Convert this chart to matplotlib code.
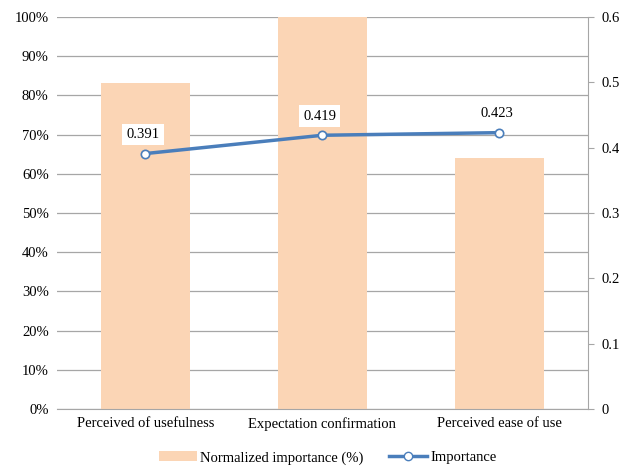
import matplotlib
matplotlib.use("Agg")
import matplotlib.pyplot as plt
from matplotlib.ticker import FuncFormatter, MultipleLocator
from matplotlib.lines import Line2D
from matplotlib.patches import Patch

categories = ["Perceived of usefulness", "Expectation confirmation", "Perceived ease of use"]
normalized_importance = [83.1, 100.0, 64.1]
importance = [0.391, 0.419, 0.423]

bar_color = "#FBD5B5"
line_color = "#4A7EBB"
grid_color = "#A6A6A6"

plt.rcParams["font.family"] = ["Liberation Serif", "DejaVu Serif"]

fig = plt.figure(figsize=(6.3, 4.66), dpi=100)
ax = fig.add_axes([0.0905, 0.1223, 0.8425, 0.8412])
x = list(range(len(categories)))

ax.bar(x, normalized_importance, width=0.5, color=bar_color, zorder=2)
ax.set_xlim(-0.5, len(categories) - 0.5)
ax.set_ylim(0, 100)
ax.yaxis.set_major_locator(MultipleLocator(10))
ax.yaxis.set_major_formatter(FuncFormatter(lambda v, _: f"{v:.0f}%"))
ax.grid(axis="y", color=grid_color, linewidth=0.9, zorder=0)
ax.set_axisbelow(True)
ax.set_xticks(x)
ax.set_xticklabels(categories, fontsize=10.5)
ax.tick_params(axis="x", length=0, pad=6)
ax.tick_params(axis="y", length=0, labelsize=10.5, pad=6)
for s in ["top", "left", "right"]:
    ax.spines[s].set_visible(False)
ax.spines["bottom"].set_color(grid_color)

ax2 = ax.twinx()
ax2.plot(x, importance, color=line_color, linewidth=2.5, marker="o",
         markersize=6, markerfacecolor="white", markeredgecolor=line_color,
         markeredgewidth=1.2, zorder=5)
ax2.set_ylim(0, 0.6)
ax2.yaxis.set_major_locator(MultipleLocator(0.1))
ax2.yaxis.set_major_formatter(FuncFormatter(lambda v, _: "0" if v == 0 else f"{v:.1f}"))
ax2.tick_params(axis="y", direction="out", length=4, color=grid_color, labelsize=10.5, pad=6)
for s in ["top", "left", "bottom"]:
    ax2.spines[s].set_visible(False)
ax2.spines["right"].set_color(grid_color)

for xi, v in zip(x, importance):
    ax2.annotate(f"{v:.3f}", (xi, v), xytext=(-2, 9), textcoords="offset points",
                 ha="center", va="bottom", fontsize=10.5,
                 bbox=dict(boxstyle="square,pad=0.3", facecolor="white", edgecolor="none"),
                 zorder=6)

handles = [
    Patch(facecolor=bar_color, edgecolor="none"),
    Line2D([0], [0], color=line_color, linewidth=2.5, marker="o", markersize=6,
           markerfacecolor="white", markeredgecolor=line_color),
]
fig.legend(handles, ["Normalized importance (%)", "Importance"], loc="lower center",
           bbox_to_anchor=(0.52, -0.025), ncol=2, frameon=False, fontsize=10.5,
           handlelength=2.6, handletextpad=0.2, columnspacing=1.8)

fig.savefig("out.png", dpi=100)
